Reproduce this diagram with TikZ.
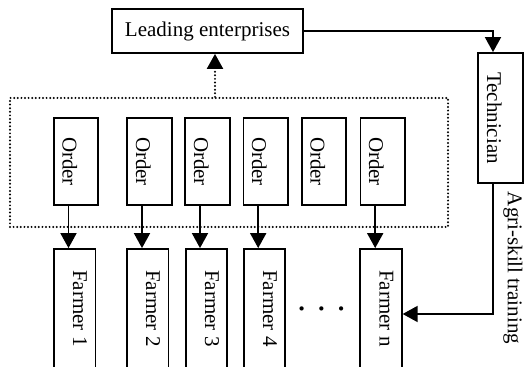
\documentclass[tikz,border=0pt]{standalone}
\usepackage{fontspec}
\setmainfont{Liberation Serif}
\usetikzlibrary{arrows.meta}
\tikzstyle{block} = [rectangle, draw=black, line width=0.9pt, inner sep=0pt, text centered, font=\fontsize{10.5}{12}\selectfont]
\tikzstyle{vblock} = [block, rotate=-90, text height=13.5pt, text depth=0pt]
\tikzstyle{order} = [vblock, minimum width=43.5pt, minimum height=22.25pt]
\tikzstyle{farmer} = [block, rotate=-90, text height=4pt, text depth=2.5pt, minimum width=59.5pt, minimum height=20.75pt]
\tikzstyle{group} = [rectangle, draw=black, line width=1.1pt, line cap=round, dash pattern=on 0pt off 1.8pt]
\tikzstyle{arrow} = [line width=0.9pt, -{Triangle[length=7.5pt,width=8pt]}]
\tikzstyle{dotarrow} = [arrow, line width=1.1pt, line cap=round, dash pattern=on 0pt off 1.8pt]

\begin{document}
\begin{tikzpicture}[x=0.5pt, y=-0.5pt]
    \useasboundingbox (0,0) rectangle (525,367);
    % rotated boxes: west = top, east = bottom, north = right, south = left
    \node (orders) [group, minimum width=219pt, minimum height=64.5pt] at (229,162.5) {};
    \node (lead) [block, minimum width=95.5pt, minimum height=22pt] at (207.5,31) {Leading enterprises};
    \node (tech) [vblock, minimum width=65pt, minimum height=22.5pt] at (500.5,118) {Technician};
    \node (o1) [order] at (76,161.5) {Order};
    \node (o2) [order] at (149.5,161.5) {Order};
    \node (o3) [order] at (207.5,161.5) {Order};
    \node (o4) [order] at (265.7,161.5) {Order};
    \node (o5) [order] at (324,161.5) {Order};
    \node (o6) [order] at (382.7,161.5) {Order};
    \node (f1) [farmer] at (74.7,308.5) {Farmer 1};
    \node (f2) [farmer] at (147.7,308.5) {Farmer 2};
    \node (f3) [farmer] at (206.5,308.5) {Farmer 3};
    \node (f4) [farmer] at (264.5,308.5) {Farmer 4};
    \node (fn) [farmer] at (381,308.5) {Farmer n};
    \node (dots) [font=\fontsize{13}{14}\selectfont\bfseries, inner sep=0pt, anchor=base] at (321.5,318) {·\hspace{5.5pt}·\hspace{5.5pt}·};
    \node (agri) [rotate=-90, inner sep=0pt, font=\fontsize{10.5}{12}\selectfont] at (513,268) {Agri-skill training};

    \draw [dotarrow] ([xshift=-7pt]orders.north) -- ([xshift=-7pt]orders.north |- lead.south);
    \draw [arrow] (lead.east) -| ([xshift=-3.75pt]tech.west);
    \draw [arrow] ([xshift=-3.75pt]tech.east) |- ([yshift=-2.75pt]fn.north);
    \draw [arrow] ([xshift=-3.75pt]o1.east) -- ([xshift=-3.75pt]o1.east |- f1.west);
    \draw [arrow] ([xshift=-3.75pt]o2.east) -- ([xshift=-3.75pt]o2.east |- f2.west);
    \draw [arrow] ([xshift=-3.75pt]o3.east) -- ([xshift=-3.75pt]o3.east |- f3.west);
    \draw [arrow] ([xshift=-3.75pt]o4.east) -- ([xshift=-3.75pt]o4.east |- f4.west);
    \draw [arrow] ([xshift=-3.75pt]o6.east) -- ([xshift=-3.75pt]o6.east |- fn.west);
\end{tikzpicture}
\end{document}
